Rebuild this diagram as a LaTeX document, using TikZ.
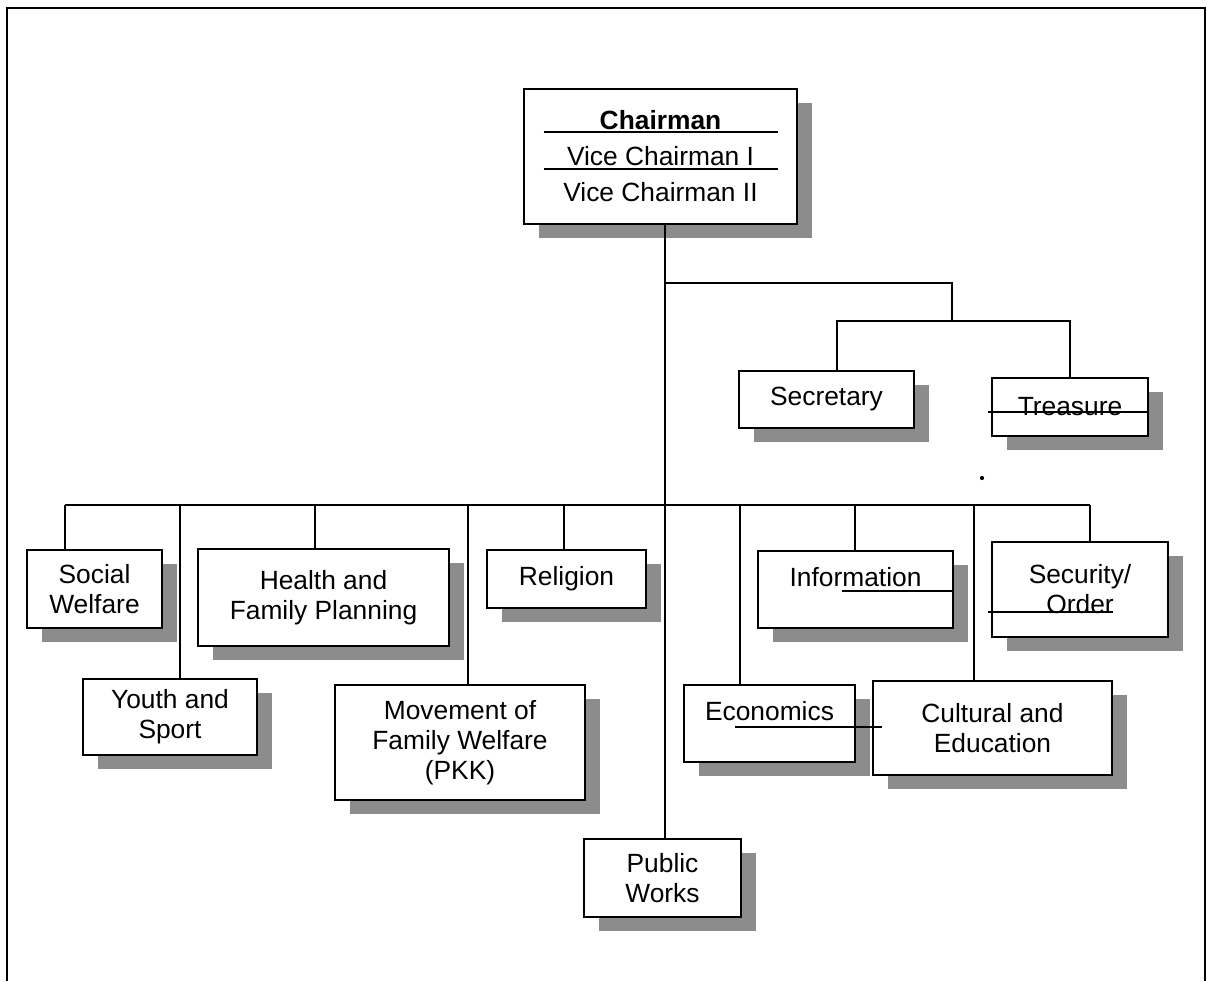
\documentclass[tikz,border=0pt]{standalone}
\usepackage{fontspec}
\setmainfont{Liberation Sans}
\usetikzlibrary{calc,positioning,shadows}

\tikzset{
  unit/.style={draw, line width=1.4pt, fill=white, align=center, inner sep=2pt,
    font=\fontsize{15}{17}\selectfont,
    general shadow={shadow xshift=0.3cm, shadow yshift=-0.28cm, fill=black!45}},
  link/.style={line width=1pt},
}

\begin{document}
\begin{tikzpicture}[x=0.02cm, y=-0.02cm]
\useasboundingbox (0,0) rectangle (1207,981);
% frame, open at the bottom
\draw[line width=1.2pt] (7,981) -- (7,8) -- (1205,8) -- (1205,981);

% board
\node[unit, minimum width=5.46cm, minimum height=2.70cm] (chair) at (660.5,156.5) {\textbf{Chairman}\\[3.5pt]Vice Chairman I\\[3.5pt]Vice Chairman II};
\draw[link] ($(chair.center)+(-117,-24.5)$) -- ($(chair.center)+(117,-24.5)$);
\draw[link] ($(chair.center)+(-117,12.5)$) -- ($(chair.center)+(117,12.5)$);

\node[unit, minimum width=3.50cm, minimum height=1.14cm] (secr) at (826.5,399.5) {Secretary};
\node[unit, minimum width=3.12cm, minimum height=1.16cm] (treas) at (1070,407) {Treasure};

% sections, upper row
\node[unit, minimum width=2.70cm, minimum height=1.56cm] (social) at (94.5,589) {Social\\Welfare};
\node[unit, minimum width=5.02cm, minimum height=1.94cm] (health) at (323.5,597.5) {Health and\\Family Planning};
\node[unit, minimum width=3.18cm, minimum height=1.16cm] (relig) at (566.5,579) {Religion};
\node[unit, minimum width=3.90cm, minimum height=1.54cm, text depth=0.5cm] (info) at (855.5,589.5) {Information};
\node[unit, minimum width=3.52cm, minimum height=1.90cm] (secur) at (1080,589.5) {Security/\\Order};

% sections, lower row
\node[unit, minimum width=3.48cm, minimum height=1.52cm] (youth) at (170,717) {Youth and\\Sport};
\node[unit, minimum width=5.00cm, minimum height=2.30cm] (pkk) at (460,742.5) {Movement of\\Family Welfare\\(PKK)};
\node[unit, minimum width=3.42cm, minimum height=1.54cm, text depth=0.5cm] (econ) at (769.5,723.5) {Economics};
\node[unit, minimum width=4.78cm, minimum height=1.88cm] (cult) at (992.5,728) {Cultural and\\Education};
\node[unit, minimum width=3.14cm, minimum height=1.56cm] (works) at (662.5,878) {Public\\Works};

% connectors
\coordinate (tk) at (665,283);
\coordinate (tr) at (952,283);
\coordinate (sx) at (837,321);
\coordinate (tx) at (1070,321);
\draw[link] (chair.south -| tk) -- (works.north -| tk);
\draw[link] (tk) -- (tr) -- (tr |- sx);
\draw[link] (secr.north -| sx) -- (sx) -- (tx) -- (treas.north -| tx);

\coordinate (bl) at (65,505);
\coordinate (br) at (1090,505);
\draw[link] (bl) -- (br);
\foreach \n/\x in {social/65, youth/180, health/315, pkk/468, relig/564, econ/740, info/855, cult/974, secur/1090} {
  \coordinate (d) at (\x,505);
  \draw[link] (d) -- (\n.north -| d);
}

% stray strokes
\draw[link] (988,412) -- (1148,412);
\draw[link] (842,591) -- (953,591);
\draw[link] (988,612) -- (1113,612);
\draw[link] (735,727) -- (882,727);
\fill (982,478) circle[radius=1.2pt];
\end{tikzpicture}
\end{document}
